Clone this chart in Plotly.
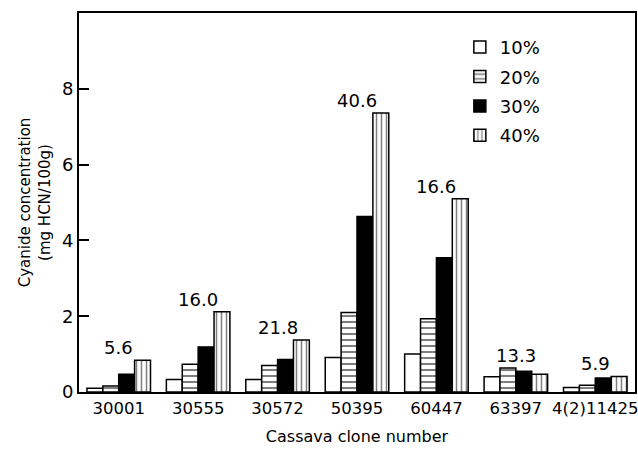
import plotly.graph_objects as go

clones = ["30001", "30555", "30572", "50395", "60447", "63397", "4(2)11425"]
series_names = ["10%", "20%", "30%", "40%"]
v10 = [0.10, 0.33, 0.33, 0.91, 1.00, 0.40, 0.12]
v20 = [0.16, 0.73, 0.70, 2.10, 1.93, 0.63, 0.18]
v30 = [0.47, 1.19, 0.86, 4.63, 3.54, 0.55, 0.37]
v40 = [0.84, 2.12, 1.37, 7.36, 5.10, 0.47, 0.41]
group_labels = ["5.6", "16.0", "21.8", "40.6", "16.6", "13.3", "5.9"]
y_ticks = [0, 2, 4, 6, 8]

FONT = "DejaVu Sans"
styles = [
    dict(color="white", pattern=dict(shape="")),
    dict(color="white", pattern=dict(shape="-", fgcolor="black", bgcolor="white", size=6, solidity=0.35)),
    dict(color="black", pattern=dict(shape="")),
    dict(color="white", pattern=dict(shape="|", fgcolor="black", bgcolor="white", size=5, solidity=0.3)),
]

fig = go.Figure()
for name, vals, st in zip(series_names, [v10, v20, v30, v40], styles):
    fig.add_trace(go.Bar(
        x=clones, y=vals, name=name, legendgroup=name,
        marker=dict(color=st["color"], pattern=st["pattern"],
                    line=dict(color="black", width=1.5)),
    ))

group_max = [max(a, b, c, d) for a, b, c, d in zip(v10, v20, v30, v40)]
for i, (lab, m) in enumerate(zip(group_labels, group_max)):
    fig.add_annotation(x=i, y=m, text=lab, showarrow=False, yanchor="bottom",
                       yshift=0, font=dict(family=FONT, size=18, color="black"))

fig.update_layout(
    width=638, height=452,
    margin=dict(l=79, r=3, t=13, b=60),
    paper_bgcolor="white", plot_bgcolor="white",
    barmode="group", bargap=0.2, bargroupgap=0,
    font=dict(family=FONT, color="black"),
    showlegend=True,
    legend=dict(x=0.685, y=0.958, xanchor="left", yanchor="top",
                font=dict(family=FONT, size=18, color="black"),
                bgcolor="rgba(0,0,0,0)", traceorder="grouped",
                tracegroupgap=3, itemwidth=30),
)
fig.update_xaxes(
    type="category", range=[-0.5, len(clones) - 0.5], automargin=False,
    showline=True, linecolor="black", linewidth=2, mirror=True,
    ticks="", tickfont=dict(family=FONT, size=16.5, color="black"),
    title=dict(text="Cassava clone number", font=dict(family=FONT, size=16, color="black"), standoff=14),
    showgrid=False,
)
fig.update_yaxes(
    range=[0, 10], tickvals=y_ticks, ticks="inside", ticklen=10, tickwidth=2,
    tickcolor="black", automargin=False,
    showline=True, linecolor="black", linewidth=2, mirror=True,
    tickfont=dict(family=FONT, size=18, color="black"),
    title=dict(text="Cyanide concentration<br>(mg HCN/100g)", font=dict(family=FONT, size=15, color="black"), standoff=8),
    showgrid=False, zeroline=False,
)

fig.write_html("out.html", config={"displayModeBar": False},
               post_script="document.body.style.margin='0';")
